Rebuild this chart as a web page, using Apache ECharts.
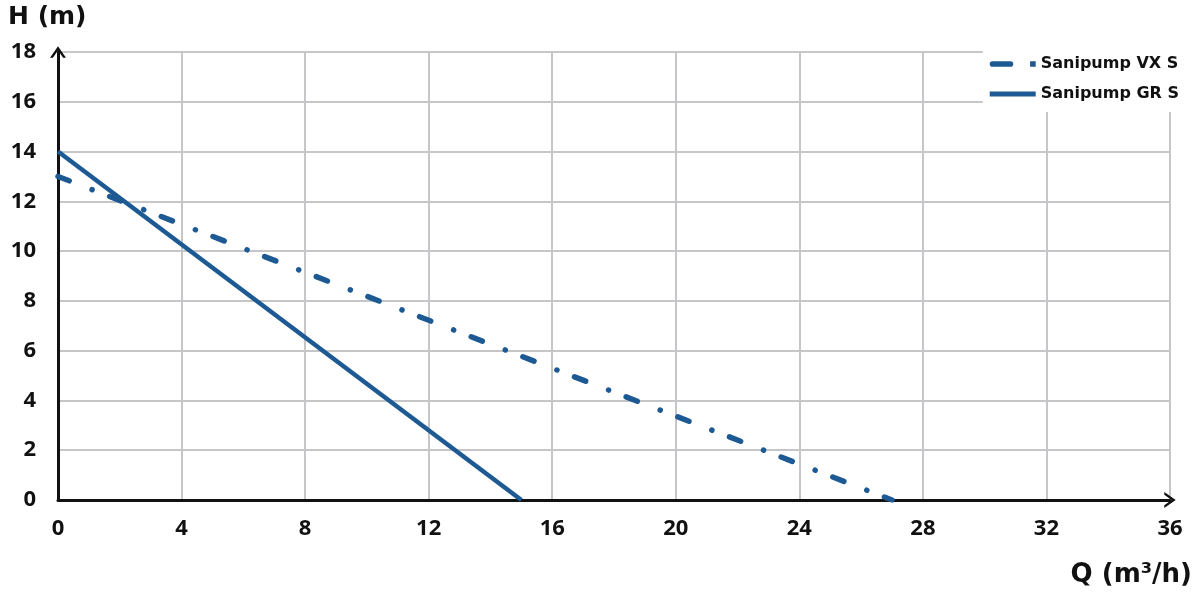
<!DOCTYPE html>
<html>
<head>
<meta charset="utf-8">
<script src="https://cdn.jsdelivr.net/npm/echarts@6/dist/echarts.min.js"></script>
<style>
html,body{margin:0;padding:0;background:#fff;}
#chart{width:1192px;height:592px;}
</style>
</head>
<body>
<div id="chart"></div>
<script>
// Data
const seriesNames = ['Sanipump VX S', 'Sanipump GR S'];
const vxFlow = [0, 27];
const vxHead = [13, 0];
const grFlow = [0, 15];
const grHead = [14, 0];
const xTicks = [0, 4, 8, 12, 16, 20, 24, 28, 32, 36];
const yTicks = [0, 2, 4, 6, 8, 10, 12, 14, 16, 18];

const pair = (xs, ys) => xs.map((x, i) => [x, ys[i]]);
const FONT = 'DejaVu Sans';
const NUMFONT = 'Open Sans';
const BLUE = '#1d5a94';
const ARROW = 'path://M0,10 L7,0 L14,10 L11.5,10 L7,3.6 L2.5,10 Z';
const VX_ICON = 'path://M2.5,0 L18.5,0 A2.5,2.5 0 0 1 18.5,5 L2.5,5 A2.5,2.5 0 0 1 2.5,0 Z M36,0 L41,0 L41,5 L36,5 Z';
const GR_ICON = 'path://M0,0 L46,0 L46,5 L0,5 Z';

const chart = echarts.init(document.getElementById('chart'));
chart.setOption({
  backgroundColor: '#ffffff',
  animation: false,
  grid: { left: 58, right: 22, top: 52, bottom: 92, containLabel: false, outerBoundsMode: 'none' },
  legend: {
    right: 0, top: 40,
    orient: 'vertical',
    backgroundColor: '#ffffff',
    padding: [16, 13, 10, 7],
    itemGap: 14,
    itemWidth: 46, itemHeight: 14,
    textStyle: { fontFamily: FONT, fontWeight: 'bold', fontSize: 16, color: '#111' },
    data: [
      { name: seriesNames[0], icon: VX_ICON, itemStyle: { color: BLUE } },
      { name: seriesNames[1], icon: GR_ICON, itemStyle: { color: BLUE } }
    ]
  },
  xAxis: {
    type: 'value', min: xTicks[0], max: xTicks[xTicks.length - 1], interval: 4,
    name: 'Q (m³/h)', nameLocation: 'end', nameGap: 0,
    nameTextStyle: { fontFamily: FONT, fontWeight: 'bold', fontSize: 26, color: '#111', align: 'right', verticalAlign: 'top', padding: [62, -22, 0, 0] },
    axisLine: { show: true, symbol: ['none', ARROW], symbolSize: [16, 12], lineStyle: { color: '#111', width: 3 } },
    axisTick: { show: false },
    axisLabel: { fontFamily: NUMFONT, fontWeight: 'bold', fontSize: 22, color: '#111', margin: 18 },
    splitLine: { show: true, lineStyle: { color: '#c6c6c9', width: 2 } }
  },
  yAxis: {
    type: 'value', min: yTicks[0], max: yTicks[yTicks.length - 1], interval: 2,
    name: 'H (m)', nameLocation: 'end', nameGap: 0,
    nameTextStyle: { fontFamily: FONT, fontWeight: 'bold', fontSize: 25, color: '#111', align: 'left', verticalAlign: 'bottom', padding: [0, 0, 22, -50] },
    axisLine: { show: true, symbol: ['none', ARROW], symbolSize: [16, 12], lineStyle: { color: '#111', width: 3 } },
    axisTick: { show: false },
    axisLabel: { fontFamily: NUMFONT, fontWeight: 'bold', fontSize: 22, color: '#111', margin: 22 },
    splitLine: { show: true, lineStyle: { color: '#c6c6c9', width: 2 } }
  },
  series: [
    {
      name: seriesNames[0], type: 'line', data: pair(vxFlow, vxHead),
      showSymbol: false, symbol: 'none', z: 3,
      lineStyle: { color: BLUE, width: 5.5, type: [12, 24.5, 0.1, 18.8], cap: 'round' },
      itemStyle: { color: BLUE }
    },
    {
      name: seriesNames[1], type: 'line', data: pair(grFlow, grHead),
      showSymbol: false, symbol: 'none', z: 3,
      lineStyle: { color: BLUE, width: 4.5 },
      itemStyle: { color: BLUE }
    }
  ]
});
</script>
</body>
</html>
